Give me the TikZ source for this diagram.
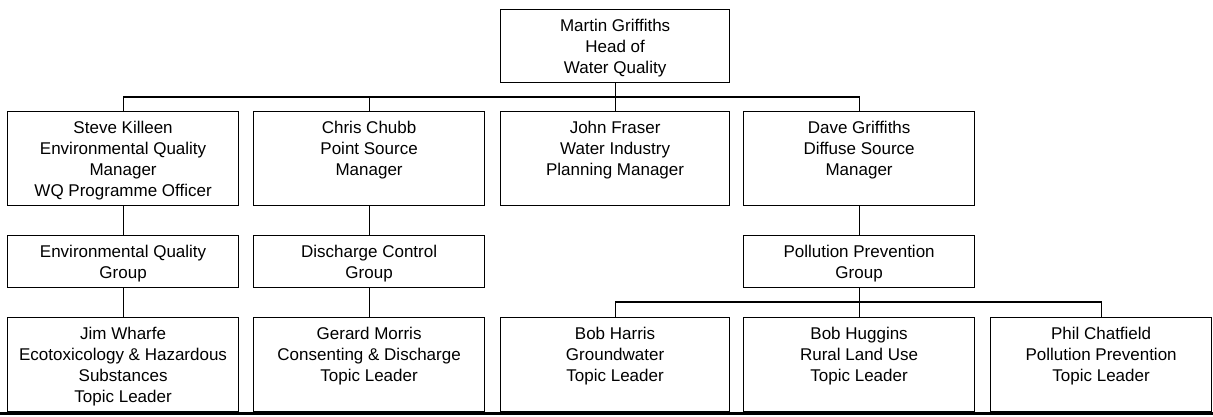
\documentclass[tikz,border=0pt]{standalone}
\usepackage{fontspec}
\setmainfont{Liberation Sans}
\begin{document}
\begin{tikzpicture}[x=1pt,y=-1pt,
  box/.style={draw, line width=1.2pt, inner sep=0pt, anchor=north west},
  wide/.style={minimum width=231pt},
  mid/.style={minimum width=229pt},
  tall/.style={minimum height=94pt},
  grp/.style={minimum height=52pt},
  txt/.style={anchor=north, align=center, inner sep=0pt,
              font=\fontsize{17}{21}\selectfont},
  link/.style={line width=1.2pt}]
\useasboundingbox (0,0) rectangle (1213,416);

% head of department
\node[box, mid, minimum height=73pt] (mg) at (500,9) {};
\node[txt] (mgT) at ([yshift=-10pt]mg.north) {Martin Griffiths\\Head of\\Water Quality};

% managers
\node[box, wide, tall] (sk) at (7,111) {};
\node[box, wide, tall] (cc) at (253,111) {};
\node[box, mid, tall]  (jf) at (500,111) {};
\node[box, wide, tall] (dg) at (743,111) {};
\node[txt] (skT) at ([yshift=-10pt]sk.north) {Steve Killeen\\Environmental Quality\\Manager\\WQ Programme Officer};
\node[txt] (ccT) at ([yshift=-10pt]cc.north) {Chris Chubb\\Point Source\\Manager};
\node[txt] (jfT) at ([yshift=-10pt]jf.north) {John Fraser\\Water Industry\\Planning Manager};
\node[txt] (dgT) at ([yshift=-10pt]dg.north) {Dave Griffiths\\Diffuse Source\\Manager};

% groups
\node[box, wide, grp] (eq) at (7,235) {};
\node[box, wide, grp] (dc) at (253,235) {};
\node[box, wide, grp] (pp) at (743,235) {};
\node[txt] (eqT) at ([yshift=-10pt]eq.north) {Environmental Quality\\Group};
\node[txt] (dcT) at ([yshift=-10pt]dc.north) {Discharge Control\\Group};
\node[txt] (ppT) at ([yshift=-10pt]pp.north) {Pollution Prevention\\Group};

% topic leaders
\node[box, wide, minimum height=94pt] (jw) at (7,317) {};
\node[box, wide, minimum height=94pt] (gm) at (253,317) {};
\node[box, mid, minimum height=94pt]  (bh) at (500,317) {};
\node[box, wide, minimum height=94pt] (hu) at (743,317) {};
\node[box, minimum width=221pt, minimum height=94pt] (pc) at (990,317) {};
\node[txt] (jwT) at ([yshift=-10pt]jw.north) {Jim Wharfe\\Ecotoxicology \& Hazardous\\Substances\\Topic Leader};
\node[txt] (gmT) at ([yshift=-10pt]gm.north) {Gerard Morris\\Consenting \& Discharge\\Topic Leader};
\node[txt] (bhT) at ([yshift=-10pt]bh.north) {Bob Harris\\Groundwater\\Topic Leader};
\node[txt] (huT) at ([yshift=-10pt]hu.north) {Bob Huggins\\Rural Land Use\\Topic Leader};
\node[txt] (pcT) at ([yshift=-10pt]pc.north) {Phil Chatfield\\Pollution Prevention\\Topic Leader};

% connectors
\coordinate (busA) at (614.5,97);
\coordinate (busB) at (859,302);
\draw[link] (mg.south) -- (jf.north);
\draw[link] (sk.north) |- (busA) -| (dg.north);
\draw[link] (cc.north) -- (cc.north |- busA);
\draw[link] (sk.south) -- (eq.north);
\draw[link] (cc.south) -- (dc.north);
\draw[link] (dg.south) -- (pp.north);
\draw[link] (eq.south) -- (jw.north);
\draw[link] (dc.south) -- (gm.north);
\draw[link] (pp.south) -- (hu.north);
\draw[link] (bh.north) |- (busB) -| (pc.north);

% page rule along the foot
\coordinate (ruleL) at (0,413);
\coordinate (ruleR) at (1213,413);
\draw[line width=3pt] (ruleL) -- (ruleR);
\end{tikzpicture}
\end{document}
